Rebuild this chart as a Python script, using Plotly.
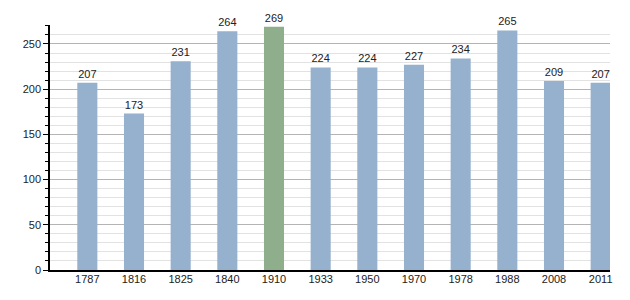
import plotly.graph_objects as go

years = ["1787", "1816", "1825", "1840", "1910", "1933", "1950", "1970", "1978", "1988", "2008", "2011"]
population = [207, 173, 231, 264, 269, 224, 224, 227, 234, 265, 209, 207]
highlight_year = "1910"

blue = "#95b1cd"
green = "#8fae8c"
colors = [green if y == highlight_year else blue for y in years]
xpos = list(range(len(years)))

fig = go.Figure(go.Bar(
    x=xpos, y=population, width=0.43,
    marker=dict(color=colors, line=dict(width=0)),
    text=[str(v) for v in population], textposition="outside",
    textfont=dict(family="Liberation Sans, Arial", size=11, color="#222"),
    cliponaxis=False,
))

fig.update_layout(
    width=630, height=300,
    margin=dict(l=50, r=20, t=25, b=30),
    plot_bgcolor="white", paper_bgcolor="white",
    showlegend=False,
    font=dict(family="Liberation Sans, Arial", size=11, color="#222"),
    xaxis=dict(
        range=[-0.8, 11.2], tickmode="array", tickvals=xpos, ticktext=years,
        showline=True, linecolor="black", linewidth=1.5, showgrid=False,
        ticks="", zeroline=False, ticklabelstandoff=-2,
    ),
    yaxis=dict(
        range=[0, 271], dtick=50, tick0=0,
        showline=True, linecolor="black", linewidth=1.5,
        ticks="outside", ticklen=5, tickcolor="black",
        gridcolor="#b4b4b4", gridwidth=1, zeroline=False,
        minor=dict(dtick=10, showgrid=True, gridcolor="#e2e2e2", ticks="outside", ticklen=3, tickcolor="black"),
    ),
)

fig.write_html("out.html")
